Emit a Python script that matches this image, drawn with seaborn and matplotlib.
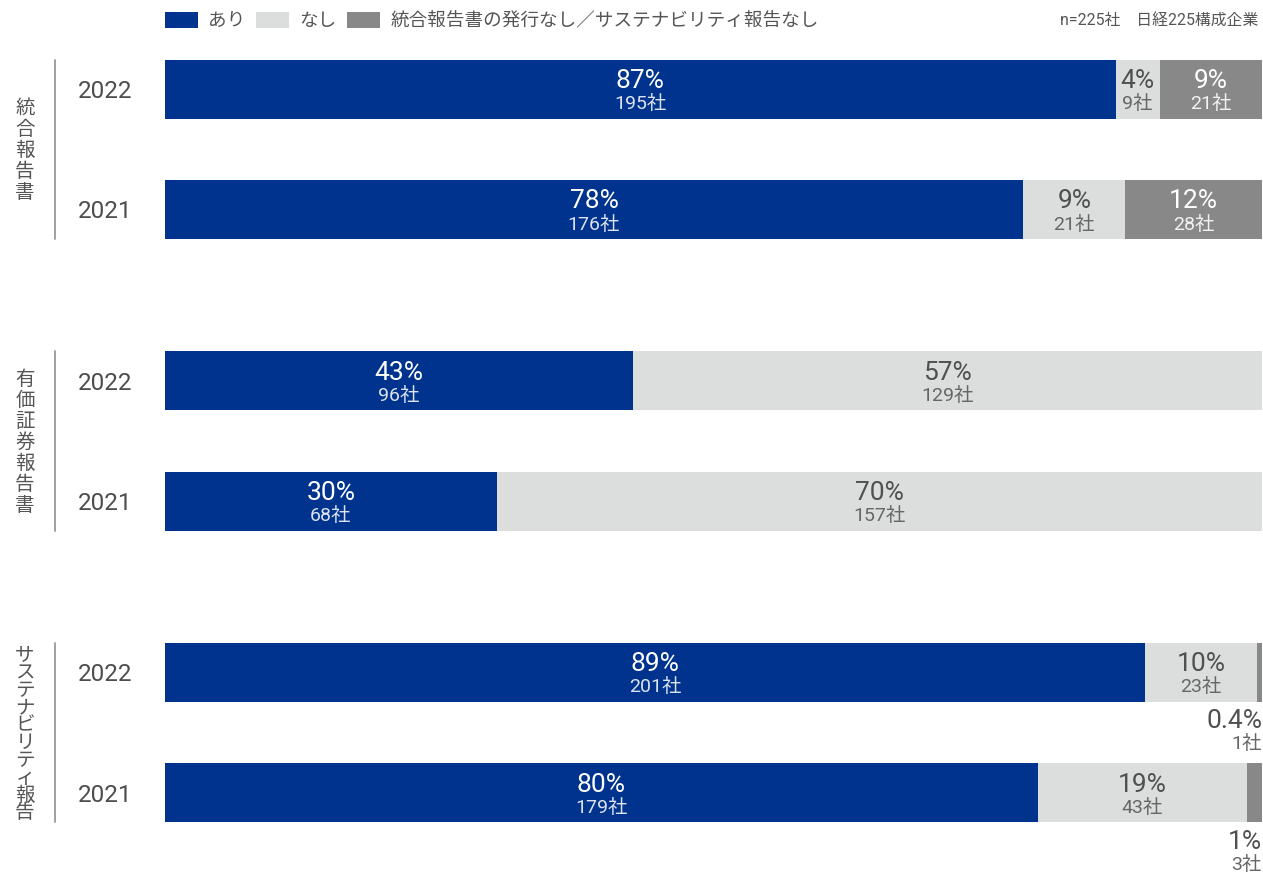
import pandas as pd
import seaborn as sns
import matplotlib.pyplot as plt
import matplotlib.transforms as mtransforms
from matplotlib.patches import Patch

# data (company counts, n=225)
groups = ["統合報告書", "有価証券報告書", "サステナビリティ報告"]
years = ["2022", "2021"]
ari = [195, 176, 96, 68, 201, 179]
nashi = [9, 21, 129, 157, 23, 43]
not_issued = [21, 28, 0, 0, 1, 3]
n_total = 225
legend_labels = ["あり", "なし", "統合報告書の発行なし／サステナビリティ報告なし"]
note = "n=225社　日経225構成企業"

BLUE = "#00338D"
LIGHT = "#DCDDDD"
DARK = "#888888"
TXT = "#4D4D4D"

W, H = 1263, 875
X0, X1 = 165, 1262
ROW0, ROW_STEP, GROUP_GAP = 89, 120.5, 0.42

sns.set_theme(style="white")
plt.rcParams["font.family"] = ["Roboto", "Noto Sans CJK JP", "DejaVu Sans"]

pos = [g * (len(years) + GROUP_GAP) + k
       for g in range(len(groups)) for k in range(len(years))]
df = pd.DataFrame({
    "pos": pos,
    "ari": ari,
    "ari_nashi": [a + b for a, b in zip(ari, nashi)],
    "total": [a + b + c for a, b, c in zip(ari, nashi, not_issued)],
})

fig = plt.figure(figsize=(W / 100, H / 100), dpi=100)
ax = fig.add_axes([X0 / W, 0, (X1 - X0) / W, 1])

# overlay cumulative totals: dark grey, then light grey, then blue
for col, c in [("total", DARK), ("ari_nashi", LIGHT), ("ari", BLUE)]:
    sns.barplot(data=df, x=col, y="pos", orient="h", native_scale=True,
                color=c, saturation=1, width=59 / ROW_STEP, errorbar=None,
                linewidth=0, ax=ax)

ax.set_xlim(0, n_total)
ax.set_ylim((H - ROW0) / ROW_STEP, -ROW0 / ROW_STEP)
ax.axis("off")

def px(dy):
    return dy / ROW_STEP

def pct_label(v):
    p = v / n_total * 100
    return f"{p:.1f}%" if p < 1 else f"{p:.0f}%"

styles = [
    (BLUE, "white", "#DCE2F0"),
    (LIGHT, "#505050", "#666666"),
    (DARK, "white", "#F2F2F2"),
]
for i, y in enumerate(pos):
    left = 0
    for vals, (_, pc, cc) in zip([ari, nashi, not_issued], styles):
        v = vals[i]
        if v == 0:
            continue
        if v >= 5:
            xc = left + v / 2
            ax.text(xc, y - px(1), pct_label(v), ha="center", va="baseline",
                    fontsize=19, color=pc)
            ax.text(xc, y + px(20), f"{v}社", ha="center", va="baseline",
                    fontsize=14, color=cc)
        else:
            ax.text(n_total, y + px(56), pct_label(v), ha="right",
                    va="baseline", fontsize=19, color="#505050", clip_on=False)
            ax.text(n_total, y + px(77), f"{v}社", ha="right", va="baseline",
                    fontsize=14, color="#666666", clip_on=False)
        left += v

# year labels, group labels and bracket lines to the left of the bars
tr = mtransforms.blended_transform_factory(fig.transFigure, ax.transData)
for i, y in enumerate(pos):
    ax.text(105.5 / W, y + px(9), years[i % 2], transform=tr, ha="center",
            va="baseline", fontsize=17.5, color=TXT)

char_step = [21, 21, 17.5]
for g, name in enumerate(groups):
    y_top, y_bot = pos[2 * g] - px(29.5), pos[2 * g + 1] + px(29.5)
    ax.plot([55 / W, 55 / W], [y_top, y_bot], transform=tr, color="#999999",
            lw=1.3, clip_on=False)
    mid = (y_top + y_bot) / 2
    n = len(name)
    for j, ch in enumerate(name):
        yy = mid + px((j - (n - 1) / 2) * char_step[g] + 2)
        ax.text(25 / W, yy, ch, transform=tr, ha="center", va="center",
                fontsize=14, color="#555555")

handles = [Patch(facecolor=c, edgecolor="none") for c in [BLUE, LIGHT, DARK]]
fig.legend(handles, legend_labels, loc="center left", ncol=3,
           bbox_to_anchor=(X0 / W, 1 - 21 / H), frameon=False, borderpad=0,
           borderaxespad=0, handlelength=1.75, handleheight=1.0,
           handletextpad=0.55, columnspacing=0.6, labelcolor="#555555",
           prop={"size": 13.4})

fig.text(1258 / W, 1 - 21 / H, note, ha="right", va="center", fontsize=11.4,
         color="#555555")

fig.savefig("out.png", dpi=100)
